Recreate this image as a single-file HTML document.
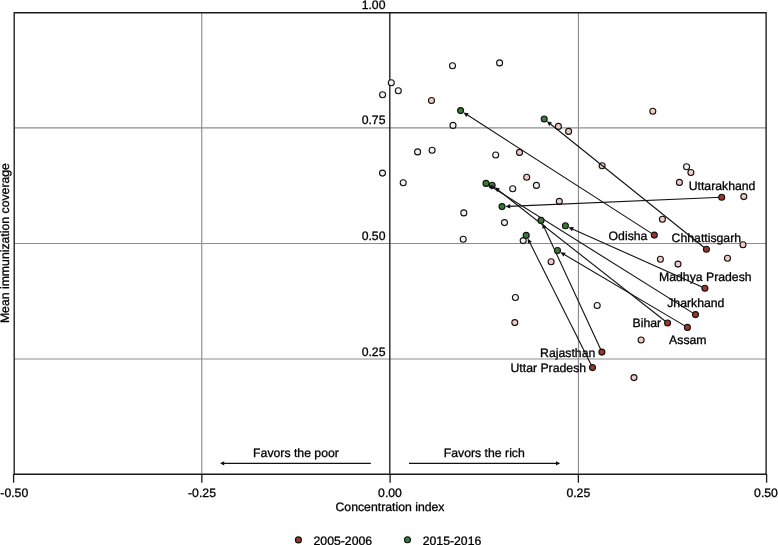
<!DOCTYPE html><html><head><meta charset="utf-8"><style>html,body{margin:0;padding:0;background:#fff;}svg{display:block;will-change:transform;}text{font-family:"Liberation Sans", sans-serif;font-size:12.25px;fill:#000;stroke:#000;stroke-width:0.3px;text-rendering:geometricPrecision;}</style></head><body>
<svg width="778" height="545" viewBox="0 0 778 545">
<rect width="778" height="545" fill="#fff"/>
<line x1="201.75" y1="12.7" x2="201.75" y2="474" stroke="#8e8e8e" stroke-width="1.15"/>
<line x1="578.45" y1="12.7" x2="578.45" y2="474" stroke="#8e8e8e" stroke-width="1.15"/>
<line x1="14.3" y1="127.85" x2="766" y2="127.85" stroke="#8e8e8e" stroke-width="1.15"/>
<line x1="14.3" y1="243.45" x2="766" y2="243.45" stroke="#8e8e8e" stroke-width="1.15"/>
<line x1="14.3" y1="358.95" x2="766" y2="358.95" stroke="#8e8e8e" stroke-width="1.15"/>
<path d="M14.2,12.75 H766.1 V474.2 H14.2 Z" fill="none" stroke="#1a1a1a" stroke-width="1.35"/>
<line x1="389.8" y1="12.7" x2="389.8" y2="474" stroke="#1a1a1a" stroke-width="1.35"/>
<line x1="13.6" y1="474" x2="13.6" y2="482.7" stroke="#1a1a1a" stroke-width="1.3"/>
<line x1="201.85" y1="474" x2="201.85" y2="482.7" stroke="#1a1a1a" stroke-width="1.3"/>
<line x1="390.1" y1="474" x2="390.1" y2="482.7" stroke="#1a1a1a" stroke-width="1.3"/>
<line x1="578.35" y1="474" x2="578.35" y2="482.7" stroke="#1a1a1a" stroke-width="1.3"/>
<line x1="766.6" y1="474" x2="766.6" y2="482.7" stroke="#1a1a1a" stroke-width="1.3"/>
<text x="14.3" y="496.8" text-anchor="middle">-0.50</text>
<text x="202" y="496.8" text-anchor="middle">-0.25</text>
<text x="390" y="496.8" text-anchor="middle">0.00</text>
<text x="578.3" y="496.8" text-anchor="middle">0.25</text>
<text x="766" y="496.8" text-anchor="middle">0.50</text>
<text x="385.5" y="8.8" text-anchor="end">1.00</text>
<text x="385.5" y="124.2" text-anchor="end">0.75</text>
<text x="385.5" y="239.9" text-anchor="end">0.50</text>
<text x="385.5" y="355.8" text-anchor="end">0.25</text>
<text x="390" y="510.8" text-anchor="middle">Concentration index</text>
<text transform="translate(8.8,243.1) rotate(-90)" text-anchor="middle">Mean immunization coverage</text>
<line x1="370.8" y1="463.35" x2="222" y2="463.35" stroke="#111" stroke-width="1.3"/>
<path d="M220.00,463.35 L224.20,461.25 L224.20,465.45 Z" fill="#111"/>
<line x1="409" y1="463.35" x2="558" y2="463.35" stroke="#111" stroke-width="1.3"/>
<path d="M560.20,463.35 L556.00,465.45 L556.00,461.25 Z" fill="#111"/>
<text x="296" y="457.4" text-anchor="middle">Favors the poor</text>
<text x="484.3" y="457.4" text-anchor="middle">Favors the rich</text>
<circle cx="452.5" cy="65.7" r="3.0" fill="#eef5ec" stroke="#111" stroke-width="1.1"/>
<circle cx="499.6" cy="62.9" r="3.0" fill="#eef5ec" stroke="#111" stroke-width="1.1"/>
<circle cx="391.3" cy="82.8" r="3.0" fill="#eef5ec" stroke="#111" stroke-width="1.1"/>
<circle cx="398.3" cy="90.7" r="3.0" fill="#eef5ec" stroke="#111" stroke-width="1.1"/>
<circle cx="382.6" cy="94.8" r="3.0" fill="#eef5ec" stroke="#111" stroke-width="1.1"/>
<circle cx="453" cy="125.4" r="3.0" fill="#eef5ec" stroke="#111" stroke-width="1.1"/>
<circle cx="417.6" cy="151.9" r="3.0" fill="#eef5ec" stroke="#111" stroke-width="1.1"/>
<circle cx="432.1" cy="150.3" r="3.0" fill="#eef5ec" stroke="#111" stroke-width="1.1"/>
<circle cx="382.5" cy="173.1" r="3.0" fill="#eef5ec" stroke="#111" stroke-width="1.1"/>
<circle cx="403.2" cy="182.7" r="3.0" fill="#eef5ec" stroke="#111" stroke-width="1.1"/>
<circle cx="495.7" cy="155" r="3.0" fill="#eef5ec" stroke="#111" stroke-width="1.1"/>
<circle cx="512.7" cy="188.7" r="3.0" fill="#eef5ec" stroke="#111" stroke-width="1.1"/>
<circle cx="536.4" cy="185.4" r="3.0" fill="#eef5ec" stroke="#111" stroke-width="1.1"/>
<circle cx="463.8" cy="212.9" r="3.0" fill="#eef5ec" stroke="#111" stroke-width="1.1"/>
<circle cx="463.2" cy="239.2" r="3.0" fill="#eef5ec" stroke="#111" stroke-width="1.1"/>
<circle cx="504.5" cy="222.6" r="3.0" fill="#eef5ec" stroke="#111" stroke-width="1.1"/>
<circle cx="523.2" cy="240.6" r="3.0" fill="#eef5ec" stroke="#111" stroke-width="1.1"/>
<circle cx="686.6" cy="166.7" r="3.0" fill="#eef5ec" stroke="#111" stroke-width="1.1"/>
<circle cx="515.4" cy="297.5" r="3.0" fill="#eef5ec" stroke="#111" stroke-width="1.1"/>
<circle cx="597.2" cy="305.5" r="3.0" fill="#eef5ec" stroke="#111" stroke-width="1.1"/>
<circle cx="431.5" cy="100.5" r="3.0" fill="#f3cac4" stroke="#111" stroke-width="1.1"/>
<circle cx="652.8" cy="111.2" r="3.0" fill="#f3cac4" stroke="#111" stroke-width="1.1"/>
<circle cx="558.4" cy="126.4" r="3.0" fill="#f3cac4" stroke="#111" stroke-width="1.1"/>
<circle cx="568.6" cy="131.4" r="3.0" fill="#f3cac4" stroke="#111" stroke-width="1.1"/>
<circle cx="519.5" cy="152.4" r="3.0" fill="#f3cac4" stroke="#111" stroke-width="1.1"/>
<circle cx="602.1" cy="165.8" r="3.0" fill="#f3cac4" stroke="#111" stroke-width="1.1"/>
<circle cx="526.7" cy="177.2" r="3.0" fill="#f3cac4" stroke="#111" stroke-width="1.1"/>
<circle cx="559.3" cy="201.4" r="3.0" fill="#f3cac4" stroke="#111" stroke-width="1.1"/>
<circle cx="690.9" cy="172.5" r="3.0" fill="#f3cac4" stroke="#111" stroke-width="1.1"/>
<circle cx="679.4" cy="182.4" r="3.0" fill="#f3cac4" stroke="#111" stroke-width="1.1"/>
<circle cx="743.8" cy="196.6" r="3.0" fill="#f3cac4" stroke="#111" stroke-width="1.1"/>
<circle cx="662.4" cy="219.3" r="3.0" fill="#f3cac4" stroke="#111" stroke-width="1.1"/>
<circle cx="743" cy="244.7" r="3.0" fill="#f3cac4" stroke="#111" stroke-width="1.1"/>
<circle cx="727.5" cy="258.2" r="3.0" fill="#f3cac4" stroke="#111" stroke-width="1.1"/>
<circle cx="660.4" cy="259.2" r="3.0" fill="#f3cac4" stroke="#111" stroke-width="1.1"/>
<circle cx="678" cy="264.1" r="3.0" fill="#f3cac4" stroke="#111" stroke-width="1.1"/>
<circle cx="551.1" cy="261.8" r="3.0" fill="#f3cac4" stroke="#111" stroke-width="1.1"/>
<circle cx="641.1" cy="340" r="3.0" fill="#f3cac4" stroke="#111" stroke-width="1.1"/>
<circle cx="634" cy="377.6" r="3.0" fill="#f3cac4" stroke="#111" stroke-width="1.1"/>
<circle cx="514.8" cy="322.6" r="3.0" fill="#f3cac4" stroke="#111" stroke-width="1.1"/>
<text x="608.6" y="239.6">Odisha</text>
<text x="671.6" y="241.9">Chhattisgarh</text>
<text x="688.7" y="189.6">Uttarakhand</text>
<text x="659.0" y="281.0">Madhya Pradesh</text>
<text x="667.2" y="306.9">Jharkhand</text>
<text x="632.5" y="327.4">Bihar</text>
<text x="669.1" y="344.3">Assam</text>
<text x="540.1" y="356.6">Rajasthan</text>
<text x="510.5" y="371.7">Uttar Pradesh</text>
<circle cx="492.1" cy="185.2" r="3.0" fill="#3b7a38" stroke="#111" stroke-width="1.1"/>
<line x1="654.3" y1="235.1" x2="465.98" y2="114.06" stroke="#111" stroke-width="1.1"/>
<path d="M463.46,112.44 L468.71,113.14 L466.28,116.93 Z" fill="#111"/>
<line x1="706.4" y1="249.3" x2="549.19" y2="123.01" stroke="#111" stroke-width="1.1"/>
<path d="M546.85,121.13 L552.00,122.38 L549.18,125.89 Z" fill="#111"/>
<line x1="721.7" y1="197.2" x2="508.39" y2="206.33" stroke="#111" stroke-width="1.1"/>
<path d="M505.40,206.45 L510.10,204.00 L510.29,208.50 Z" fill="#111"/>
<line x1="704.9" y1="288.3" x2="571.24" y2="228.42" stroke="#111" stroke-width="1.1"/>
<path d="M568.50,227.19 L573.80,227.10 L571.96,231.21 Z" fill="#111"/>
<line x1="695.5" y1="314.6" x2="491.42" y2="186.80" stroke="#111" stroke-width="1.1"/>
<path d="M488.88,185.20 L494.14,185.85 L491.76,189.66 Z" fill="#111"/>
<line x1="667.6" y1="323.0" x2="497.13" y2="189.15" stroke="#111" stroke-width="1.1"/>
<path d="M494.77,187.30 L499.94,188.49 L497.16,192.03 Z" fill="#111"/>
<line x1="687.4" y1="327.4" x2="563.01" y2="253.76" stroke="#111" stroke-width="1.1"/>
<path d="M560.43,252.23 L565.70,252.74 L563.41,256.61 Z" fill="#111"/>
<line x1="601.9" y1="352.1" x2="543.69" y2="226.21" stroke="#111" stroke-width="1.1"/>
<path d="M542.43,223.49 L546.48,226.90 L542.40,228.79 Z" fill="#111"/>
<line x1="592.5" y1="367.6" x2="529.07" y2="241.12" stroke="#111" stroke-width="1.1"/>
<path d="M527.72,238.44 L531.89,241.72 L527.86,243.74 Z" fill="#111"/>
<circle cx="654.3" cy="235.1" r="3.0" fill="#9b3628" stroke="#111" stroke-width="1.1"/>
<circle cx="460.6" cy="110.6" r="3.0" fill="#3b7a38" stroke="#111" stroke-width="1.1"/>
<circle cx="706.4" cy="249.3" r="3.0" fill="#9b3628" stroke="#111" stroke-width="1.1"/>
<circle cx="544.2" cy="119.0" r="3.0" fill="#3b7a38" stroke="#111" stroke-width="1.1"/>
<circle cx="721.7" cy="197.2" r="3.0" fill="#9b3628" stroke="#111" stroke-width="1.1"/>
<circle cx="502.0" cy="206.6" r="3.0" fill="#3b7a38" stroke="#111" stroke-width="1.1"/>
<circle cx="704.9" cy="288.3" r="3.0" fill="#9b3628" stroke="#111" stroke-width="1.1"/>
<circle cx="565.4" cy="225.8" r="3.0" fill="#3b7a38" stroke="#111" stroke-width="1.1"/>
<circle cx="695.5" cy="314.6" r="3.0" fill="#9b3628" stroke="#111" stroke-width="1.1"/>
<circle cx="486.0" cy="183.4" r="3.0" fill="#3b7a38" stroke="#111" stroke-width="1.1"/>
<circle cx="667.6" cy="323.0" r="3.0" fill="#9b3628" stroke="#111" stroke-width="1.1"/>
<circle cx="687.4" cy="327.4" r="3.0" fill="#9b3628" stroke="#111" stroke-width="1.1"/>
<circle cx="557.5" cy="250.5" r="3.0" fill="#3b7a38" stroke="#111" stroke-width="1.1"/>
<circle cx="601.9" cy="352.1" r="3.0" fill="#9b3628" stroke="#111" stroke-width="1.1"/>
<circle cx="541.0" cy="220.4" r="3.0" fill="#3b7a38" stroke="#111" stroke-width="1.1"/>
<circle cx="592.5" cy="367.6" r="3.0" fill="#9b3628" stroke="#111" stroke-width="1.1"/>
<circle cx="526.2" cy="235.4" r="3.0" fill="#3b7a38" stroke="#111" stroke-width="1.1"/>
<circle cx="298.4" cy="539.9" r="3.0" fill="#9b3628" stroke="#111" stroke-width="1.1"/>
<circle cx="407.5" cy="539.8" r="3.0" fill="#3b7a38" stroke="#111" stroke-width="1.1"/>
<text x="313.5" y="544.5">2005-2006</text>
<text x="422.7" y="544.5">2015-2016</text>
</svg></body></html>
